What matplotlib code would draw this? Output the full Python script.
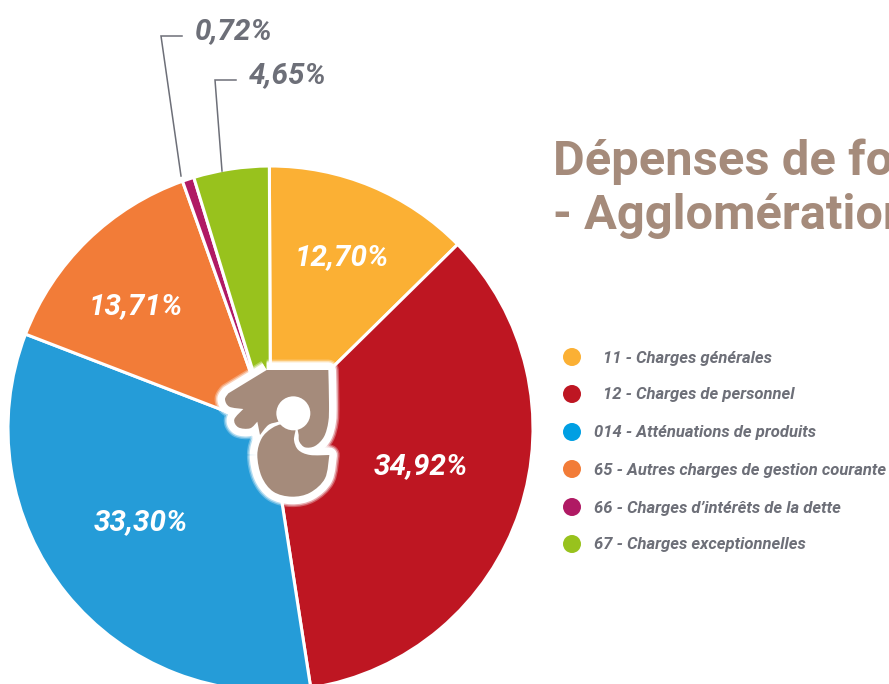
import matplotlib
matplotlib.use("Agg")
import matplotlib.pyplot as plt
from matplotlib.patches import PathPatch, Circle
from matplotlib.path import Path

plt.rcParams["font.family"] = ["Roboto", "DejaVu Sans"]

W, H = 889, 684

# data
categories = ["11 - Charges générales", "12 - Charges de personnel",
              "014 - Atténuations de produits", "65 - Autres charges de gestion courante",
              "66 - Charges d’intérêts de la dette", "67 - Charges exceptionnelles"]
values = [12.70, 34.92, 33.30, 13.71, 0.72, 4.65]
pie_colors = ["#FBB034", "#BE1622", "#259CD8", "#F27C38", "#B01A64", "#98C21D"]
dot_colors = ["#FBB034", "#BE1622", "#009FE3", "#F27C38", "#B01A64", "#98C21D"]
inner_labels = ["12,70%", "34,92%", "33,30%", "13,71%"]
outer_labels = ["0,72%", "4,65%"]
title_lines = ["Dépenses de fonctionnement", "- Agglomération"]

BROWN = "#A58B7B"
GREY = "#6D6F78"


def py(y):
    return H - y


def zoom_pt(x, y):
    return 200 + x / 3, py(340 + y / 3)


def closed_curve(points):
    """Courbe lissee fermee (Catmull-Rom vers Bezier), point double = angle vif."""
    n = len(points)
    verts = [points[0]]
    codes = [Path.MOVETO]
    for i in range(n):
        p0, p1, p2, p3 = points[i - 1], points[i], points[(i + 1) % n], points[(i + 2) % n]
        if p1 == p2:
            c1, c2 = p1, p2
        else:
            c1 = (p1[0] + (p2[0] - p0[0]) / 6, p1[1] + (p2[1] - p0[1]) / 6)
            c2 = (p2[0] - (p3[0] - p1[0]) / 6, p2[1] - (p3[1] - p1[1]) / 6)
        verts += [c1, c2, p2]
        codes += [Path.CURVE4] * 3
    return Path(verts, codes)


fig = plt.figure(figsize=(W / 100, H / 100), dpi=100)
ax = fig.add_axes([0, 0, 1, 1])
ax.set_xlim(0, W)
ax.set_ylim(0, H)
ax.set_aspect("equal")
ax.axis("off")

cx, cy, radius = 270.5, py(428.5), 262.5
ax.pie(values, colors=pie_colors, startangle=90.25, counterclock=False,
       center=(cx, cy), radius=radius, frame=False,
       wedgeprops=dict(edgecolor="white", linewidth=2.2))
ax.set_xlim(0, W)
ax.set_ylim(0, H)

# labels dans les parts
inner_pos = [(342, 257), (421, 466), (141, 522), (136, 306)]
for txt, (x, y) in zip(inner_labels, inner_pos):
    ax.text(x, py(y), txt, color="white", fontsize=21.3, fontweight="bold",
            style="italic", ha="center", va="center")

# labels exterieurs + traits
outer_pos = [(234, 31), (288, 75)]
for txt, (x, y) in zip(outer_labels, outer_pos):
    ax.text(x, py(y), txt, color=GREY, fontsize=21.3, fontweight="bold",
            style="italic", ha="center", va="center")
ax.plot([182, 161, 181], [py(36), py(36), py(176)], color=GREY, lw=1.1,
        solid_joinstyle="miter")
ax.plot([236, 215, 222], [py(80), py(80), py(171)], color=GREY, lw=1.1,
        solid_joinstyle="miter")

# logo : main et boule
hand = [(200, 90), (200, 90), (385, 90), (385, 90), (387, 190), (385, 245), (372, 290),
        (345, 318), (315, 322), (298, 305), (296, 285), (296, 285), (280, 230), (235, 245),
        (205, 255), (180, 285), (180, 285), (172, 245), (172, 245), (150, 265), (115, 262),
        (103, 238), (130, 207), (130, 207), (88, 200), (75, 178), (85, 160), (85, 160)]
ball = [(172, 345), (185, 295), (215, 265), (250, 252), (285, 262), (282, 300), (295, 330),
        (330, 345), (388, 345), (388, 345), (375, 415), (330, 458), (275, 470), (220, 455),
        (185, 410)]
hand_path = closed_curve([zoom_pt(*p) for p in hand])
ball_path = closed_curve([zoom_pt(*p) for p in ball])

# halo blanc un peu flou sous le logo
for lw, alpha in [(15, 0.3), (13, 0.5), (11, 1.0)]:
    for path in (ball_path, hand_path):
        ax.add_patch(PathPatch(path, fc="none", ec="white", lw=lw, alpha=alpha,
                               joinstyle="round", zorder=5))
ax.add_patch(PathPatch(ball_path, fc=BROWN, ec="none", zorder=6))
ax.add_patch(PathPatch(hand_path, fc=BROWN, ec="none", zorder=7))
ax.add_patch(Circle(zoom_pt(280, 220), 17, fc="white", ec="none", zorder=8))

# titre (coupe par le bord droit)
title_pos = [(553, 175), (553, 229)]
for txt, (x, y) in zip(title_lines, title_pos):
    ax.text(x, py(y), txt, color=BROWN, fontsize=35.2, fontweight="bold",
            ha="left", va="baseline", clip_on=False)

# legende
legend_y = [358, 395, 433, 470, 508, 545]
legend_x = [603, 603, 594, 594, 594, 594]
for name, col, y, x in zip(categories, dot_colors, legend_y, legend_x):
    ax.add_patch(Circle((572, py(y - 1)), 9, fc=col, ec="none"))
    ax.text(x, py(y), name, color=GREY, fontsize=12.0, fontweight="bold",
            style="italic", ha="left", va="center")

fig.savefig("out.png", dpi=100)
